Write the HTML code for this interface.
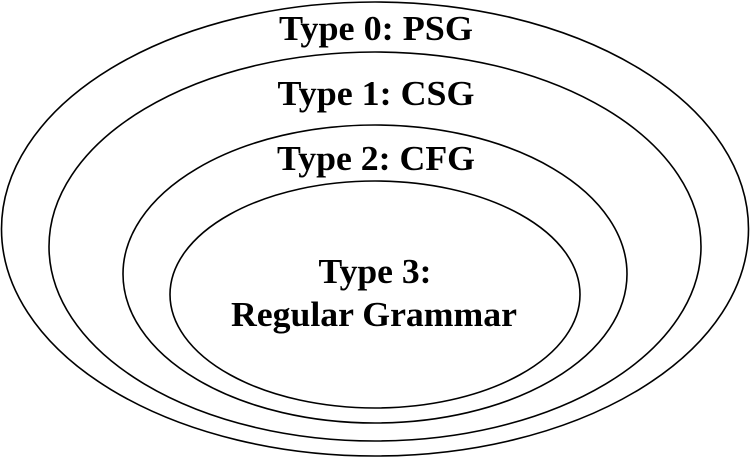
<!DOCTYPE html>
<html><head><meta charset="utf-8"><style>
html,body{margin:0;padding:0;background:#fff;}
svg{display:block;}
text{font-family:"Liberation Serif",serif;font-weight:bold;fill:#000;text-anchor:middle;}
</style></head><body>
<svg width="750" height="458" viewBox="0 0 750 458">
<g fill="none" stroke="#000" stroke-width="1.6">
<ellipse cx="375" cy="229" rx="373.5" ry="227"/>
<ellipse cx="375" cy="246.5" rx="326" ry="194.5"/>
<ellipse cx="375" cy="274" rx="252" ry="149"/>
<ellipse cx="375" cy="294.5" rx="205" ry="113.5"/>
</g>
<text x="376" y="40" font-size="35" textLength="194" lengthAdjust="spacingAndGlyphs">Type 0: PSG</text>
<text x="376" y="105" font-size="35" textLength="197" lengthAdjust="spacingAndGlyphs">Type 1: CSG</text>
<text x="376" y="170" font-size="35" textLength="198" lengthAdjust="spacingAndGlyphs">Type 2: CFG</text>
<text x="375" y="283" font-size="35" textLength="113" lengthAdjust="spacingAndGlyphs">Type 3:</text>
<text x="374" y="326" font-size="35" textLength="286" lengthAdjust="spacingAndGlyphs">Regular Grammar</text>
</svg>
</body></html>
